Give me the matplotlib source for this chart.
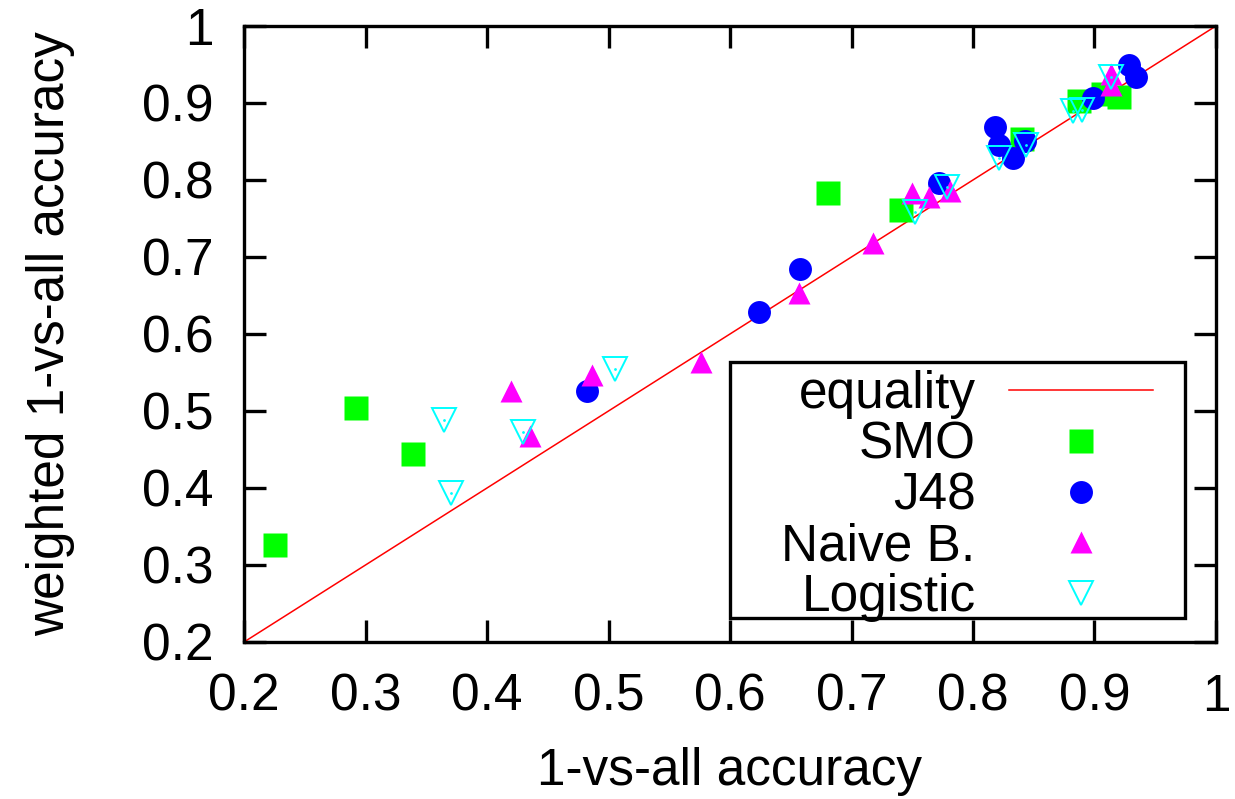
import matplotlib
matplotlib.use("Agg")
import matplotlib.pyplot as plt
from matplotlib.patches import Rectangle
from matplotlib.ticker import FuncFormatter


# points: (1-vs-all, weighted 1-vs-all)
smo_x = [0.2255, 0.292, 0.339, 0.681, 0.741, 0.840, 0.887, 0.907, 0.920]
smo_y = [0.326, 0.504, 0.444, 0.783, 0.761, 0.853, 0.902, 0.912, 0.908]

j48_x = [0.482, 0.624, 0.658, 0.772, 0.818, 0.821, 0.833, 0.843, 0.899, 0.928, 0.934]
j48_y = [0.526, 0.629, 0.685, 0.796, 0.869, 0.845, 0.829, 0.850, 0.906, 0.949, 0.934]

nb_x = [0.420, 0.435, 0.486, 0.576, 0.657, 0.718, 0.750, 0.764, 0.781, 0.914, 0.914]
nb_y = [0.526, 0.468, 0.547, 0.564, 0.653, 0.718, 0.783, 0.778, 0.786, 0.938, 0.923]

log_x = [0.365, 0.370, 0.430, 0.505, 0.752, 0.779, 0.821, 0.844, 0.882, 0.890, 0.914]
log_y = [0.488, 0.394, 0.473, 0.555, 0.758, 0.791, 0.829, 0.845, 0.889, 0.891, 0.934]

ticks = [0.2, 0.3, 0.4, 0.5, 0.6, 0.7, 0.8, 0.9, 1.0]

plt.rcParams['font.family'] = ['Liberation Sans', 'DejaVu Sans']
FS = 37

fig = plt.figure(figsize=(12.35, 7.99), dpi=100)
ax = fig.add_axes([0.1976, 0.1965, 0.787, 0.771])

ax.plot([0.2, 1.0], [0.2, 1.0], color='#ff0000', lw=1.1, label='equality')
ax.plot(smo_x, smo_y, 's', color='#00ff00', ms=17, mec='none', label='SMO')
ax.plot(j48_x, j48_y, 'o', color='#0000ff', ms=16.5, mec='none', label='J48')
ax.plot(nb_x, nb_y, '^', color='#ff00ff', ms=16, mec='none', label='Naive B.')
ax.plot(log_x, log_y, 'v', mfc='none', mec='#00ffff', mew=1.4, ms=17, label='Logistic')
# little centre dot of the gnuplot open triangle
ax.plot(log_x, log_y, '.', color='#00ffff', ms=2)

ax.set_xlim(0.2, 1.0)
ax.set_ylim(0.2, 1.0)
ax.set_xticks(ticks)
ax.set_yticks(ticks)
fmt = FuncFormatter(lambda v, p: '%g' % round(v, 2))
ax.xaxis.set_major_formatter(fmt)
ax.yaxis.set_major_formatter(fmt)

for s in ax.spines.values():
    s.set_linewidth(2.4)
ax.tick_params(direction='in', length=16, width=2.4, labelsize=FS,
               top=True, right=True, pad=22)

ax.set_xlabel('1-vs-all accuracy', fontsize=FS, labelpad=18)
ax.set_ylabel('weighted 1-vs-all accuracy', fontsize=FS, labelpad=48)

# gnuplot style key: wide box, tight rows, text right aligned before the sample
box = Rectangle((0.5, 0.039), 0.468, 0.4155, transform=ax.transAxes,
                facecolor='white', edgecolor='black', lw=2.4, zorder=4)
ax.add_patch(box)
leg = ax.legend(loc='center right', bbox_to_anchor=(0.935, 0.237),
                borderaxespad=0, markerfirst=False, fontsize=FS,
                frameon=False, handlelength=2.8, handletextpad=0.65,
                labelspacing=0.03, borderpad=0, numpoints=1)
leg.set_zorder(5)

fig.savefig('out.png', dpi=100)
